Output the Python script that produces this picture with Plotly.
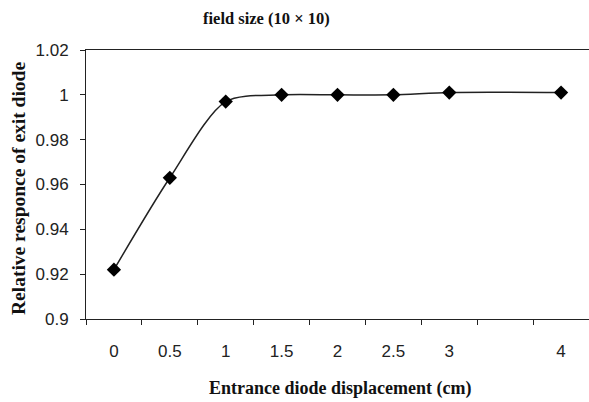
import plotly.graph_objects as go

# Data
displacement_labels = ["0", "0.5", "1", "1.5", "2", "2.5", "3", " ", "4"]
relative_response = [0.922, 0.963, 0.997, 1.000, 1.000, 1.000, 1.001, None, 1.001]
y_ticks = [0.9, 0.92, 0.94, 0.96, 0.98, 1.0, 1.02]
y_tick_text = ["0.9", "0.92", "0.94", "0.96", "0.98", "1", "1.02"]

W, H = 589, 402
L, R, T, B = 86, 0, 50, 83

fig = go.Figure()
fig.add_trace(go.Scatter(
    x=displacement_labels,
    y=relative_response,
    mode="lines+markers",
    connectgaps=True,
    line=dict(color="#222222", width=1.5, shape="spline", smoothing=0.8),
    marker=dict(symbol="diamond", size=11, color="black"),
    showlegend=False,
))

tick_font = dict(family="Liberation Sans, Arial, sans-serif", size=17, color="#222222")
serif = "Liberation Serif, Times New Roman, serif"

fig.update_layout(
    width=W, height=H,
    margin=dict(l=L, r=R, t=T, b=B, pad=0, autoexpand=False),
    paper_bgcolor="white",
    plot_bgcolor="white",
    xaxis=dict(
        type="category",
        categoryorder="array",
        categoryarray=displacement_labels,
        range=[-0.5, len(displacement_labels) - 0.5],
        tickson="boundaries",
        ticks="outside",
        ticklen=5,
        tickwidth=1,
        tickcolor="#222222",
        showline=True,
        linecolor="#222222",
        linewidth=1,
        mirror=True,
        showgrid=False,
        zeroline=False,
        automargin=False,
        tickfont=tick_font,
        ticklabelstandoff=17,
    ),
    yaxis=dict(
        range=[0.9, 1.02],
        tickvals=y_ticks,
        ticktext=y_tick_text,
        ticks="outside",
        ticklen=5,
        tickwidth=1,
        tickcolor="#222222",
        showline=True,
        linecolor="#222222",
        linewidth=1,
        mirror=True,
        showgrid=False,
        zeroline=False,
        automargin=False,
        tickfont=tick_font,
        ticklabelstandoff=8,
    ),
    annotations=[
        dict(text="<b>field size (10 × 10)</b>", xref="paper", yref="paper",
             x=(266 - L) / (W - L - R), y=1 + (T - 19) / (H - T - B),
             xanchor="center", yanchor="middle", showarrow=False,
             font=dict(family=serif, size=16.5, color="#111111")),
        dict(text="<b>Entrance diode displacement (cm)</b>", xref="paper", yref="paper",
             x=(340 - L) / (W - L - R), y=-(388 - (H - B)) / (H - T - B),
             xanchor="center", yanchor="middle", showarrow=False,
             font=dict(family=serif, size=18, color="#111111")),
        dict(text="<b>Relative responce of exit diode</b>", xref="paper", yref="paper",
             x=-(L - 18) / (W - L - R), y=1 - (189 - T) / (H - T - B),
             xanchor="center", yanchor="middle", showarrow=False, textangle=-90,
             font=dict(family=serif, size=19.5, color="#111111")),
    ],
)

fig.write_html(
    "out.html",
    config={"displayModeBar": False},
    post_script="document.body.style.margin='0';document.body.style.padding='0';document.body.style.overflow='hidden';",
)
